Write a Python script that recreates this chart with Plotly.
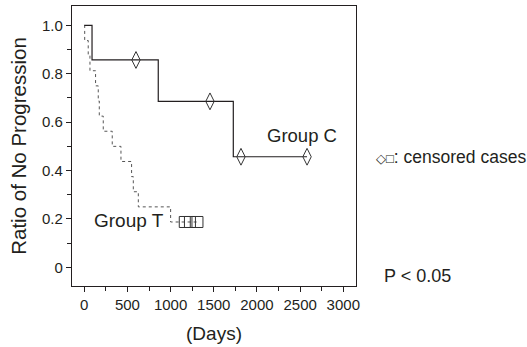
import plotly.graph_objects as go

# Group C (solid) Kaplan-Meier steps
c_days = [0, 90, 857, 1726, 2580]
c_ratio = [1.0, 0.857, 0.686, 0.457, 0.457]
c_cens_days = [599, 1456, 1815, 2580]
c_cens_ratio = [0.857, 0.686, 0.457, 0.457]

# Group T (dotted) Kaplan-Meier steps
t_days = [0, 5, 46, 66, 131, 162, 174, 220, 324, 425, 548, 568, 626, 1000, 1311]
t_ratio = [1.0, 0.9375, 0.875, 0.8125, 0.75, 0.6875, 0.625, 0.5625, 0.5,
           0.4375, 0.375, 0.3125, 0.25, 0.1875, 0.1875]
t_cens_days = [1164, 1224, 1311]
t_cens_ratio = [0.1875, 0.1875, 0.1875]

x_ticks = [0, 500, 1000, 1500, 2000, 2500, 3000]
y_ticks = [0, 0.2, 0.4, 0.6, 0.8, 1.0]
y_labels = ["0", "0.2", "0.4", "0.6", "0.8", "1.0"]

ink = "#231f20"
font = "Liberation Sans, Arial, sans-serif"

fig = go.Figure()
fig.add_trace(go.Scatter(x=t_days, y=t_ratio, mode="lines", line_shape="hv",
                         line=dict(color="#555555", width=1, dash="dot"),
                         hoverinfo="skip"))
fig.add_trace(go.Scatter(x=c_days, y=c_ratio, mode="lines", line_shape="hv",
                         line=dict(color=ink, width=1.2), hoverinfo="skip"))
fig.add_trace(go.Scatter(x=t_cens_days, y=t_cens_ratio, mode="markers",
                         marker=dict(symbol="square-open", size=11, color="#333333",
                                     line=dict(width=1, color="#333333"))))
fig.add_trace(go.Scatter(x=c_cens_days, y=c_cens_ratio, mode="markers",
                         marker=dict(symbol="diamond-tall-open", size=12, color="#333333",
                                     line=dict(width=1, color="#333333"))))

fig.add_annotation(x=2093, y=0.545, xref="x", yref="y", text="Group C",
                   showarrow=False, xanchor="left", yanchor="middle",
                   font=dict(size=18.5, color=ink, family=font))
fig.add_annotation(x=86, y=0.193, xref="x", yref="y", text="Group T",
                   showarrow=False, xanchor="left", yanchor="middle",
                   font=dict(size=19, color=ink, family=font))
fig.add_annotation(x=1.064, y=0.462, xref="paper", yref="paper",
                   text="<span style='font-size:13px'>◇□</span>: censored cases",
                   showarrow=False, xanchor="left", yanchor="middle",
                   font=dict(size=17.5, color=ink, family=font))
fig.add_annotation(x=1.092, y=0.036, xref="paper", yref="paper",
                   text="P < 0.05", showarrow=False,
                   xanchor="left", yanchor="middle",
                   font=dict(size=18, color=ink, family=font))

fig.update_layout(
    width=527, height=347,
    margin=dict(l=72, r=171, t=6, b=61),
    paper_bgcolor="white", plot_bgcolor="white",
    showlegend=False,
    font=dict(family=font, color=ink),
)
fig.update_xaxes(range=[-142, 3147], tickvals=x_ticks,
                 showgrid=False, zeroline=False,
                 showline=True, linecolor=ink, linewidth=1.2, mirror=True,
                 ticks="outside", ticklen=5, tickcolor=ink, tickwidth=1,
                 minor=dict(dtick=250, tick0=0, ticks="outside", ticklen=4,
                            tickcolor=ink, showgrid=False),
                 tickfont=dict(size=15, color=ink, family=font),
                 title=dict(text="(Days)", font=dict(size=19, color=ink, family=font),
                            standoff=14))
fig.update_yaxes(range=[-0.077, 1.08], tickvals=y_ticks, ticktext=y_labels,
                 showgrid=False, zeroline=False,
                 showline=True, linecolor=ink, linewidth=1.2, mirror=True,
                 ticks="outside", ticklen=5, tickcolor=ink, tickwidth=1,
                 minor=dict(dtick=0.1, tick0=0, ticks="outside", ticklen=4,
                            tickcolor=ink, showgrid=False),
                 tickfont=dict(size=15, color=ink, family=font),
                 title=dict(text="Ratio of No Progression",
                            font=dict(size=20.5, color=ink, family=font),
                            standoff=9))

fig.write_html("out.html", config={"displayModeBar": False},
               post_script="document.body.style.margin='0';document.body.style.overflow='hidden';")
